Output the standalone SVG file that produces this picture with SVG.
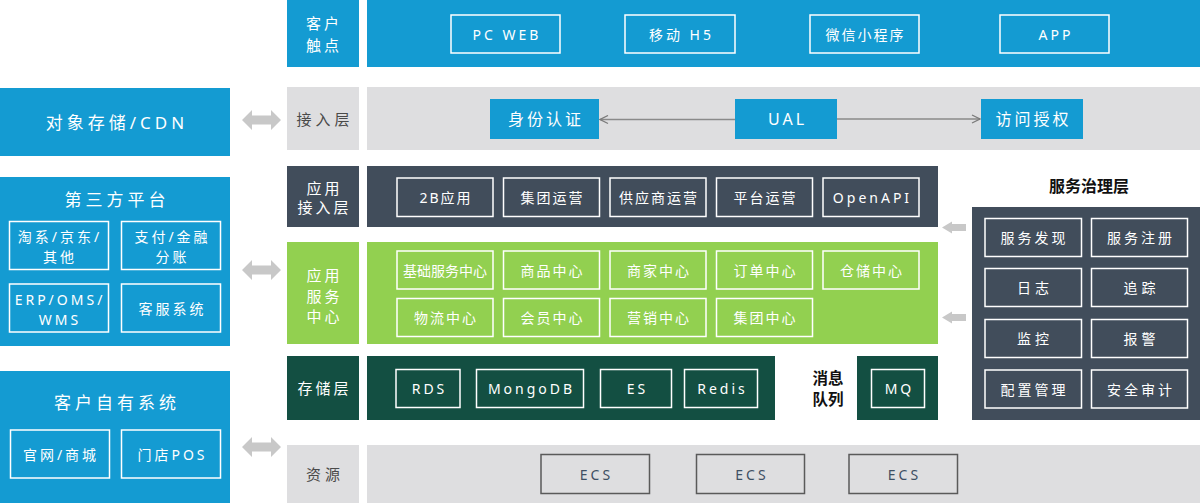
<svg xmlns="http://www.w3.org/2000/svg" width="1200" height="503" viewBox="0 0 1200 503">
<defs>
<style>
text{font-family:"Noto Sans","Noto Sans CJK SC",sans-serif;text-anchor:middle;dominant-baseline:central}
.blue{fill:#149BD2}
.gray{fill:#DEDEE0}
.dark{fill:#414D5B}
.green{fill:#92D050}
.dgreen{fill:#134F42}
.wb{fill:none;stroke:#FFFFFF;stroke-width:1.5}
.gb{fill:none;stroke:#5A5A5A;stroke-width:1.5}
.t14{font-size:14px;fill:#FFFFFF;letter-spacing:2px}
.l14{font-size:14px;fill:#FFFFFF;letter-spacing:3px}
.t16{font-size:16px;fill:#FFFFFF;letter-spacing:3px}
.lab{font-size:15px;fill:#FFFFFF;letter-spacing:3px}
.labg{font-size:15px;fill:#4A4A4A;letter-spacing:4px}
.big{font-size:17px;fill:#FFFFFF;letter-spacing:4px}
.ecs{font-size:14px;fill:#3D4F63;letter-spacing:3px}
.bold{font-size:16px;fill:#111111;font-weight:bold;font-family:"Noto Sans CJK SC",sans-serif}
.bold2{font-size:15.5px;fill:#111111;font-weight:bold;font-family:"Noto Sans CJK SC",sans-serif}
.darr{fill:#C8C8C8}
.line{stroke:#8A8A8A;stroke-width:1.5;fill:none}
</style>
<marker id="open" viewBox="0 0 10 10" refX="9" refY="5" markerWidth="10" markerHeight="10" markerUnits="userSpaceOnUse" orient="auto">
<path d="M1,1 L9,5 L1,9" fill="none" stroke="#7A7A7A" stroke-width="1.3"/>
</marker>
</defs>

<!-- Left column -->
<g id="node-oss-cdn">
<rect class="blue" x="0" y="88" width="230" height="68"/>
<text class="big" x="117" y="122">对象存储/CDN</text>
</g>
<g id="node-third-party">
<rect class="blue" x="0" y="177" width="230" height="169"/>
<text class="big" x="117" y="199">第三方平台</text>
<rect class="wb" x="9.5" y="221.5" width="99" height="48"/>
<text class="l14" x="60" y="236">淘系/京东/</text>
<text class="l14" x="60" y="256">其他</text>
<rect class="wb" x="121.5" y="221.5" width="99" height="48"/>
<text class="l14" x="172.5" y="236">支付/金融</text>
<text class="l14" x="172.5" y="256">分账</text>
<rect class="wb" x="9.5" y="284" width="99" height="48"/>
<text class="l14" x="60" y="299">ERP/OMS/</text>
<text class="l14" x="60" y="319">WMS</text>
<rect class="wb" x="121.5" y="284" width="99" height="48"/>
<text class="l14" x="172.5" y="308">客服系统</text>
</g>
<g id="node-own-systems">
<rect class="blue" x="0" y="371" width="230" height="132"/>
<text class="big" x="117" y="402">客户自有系统</text>
<rect class="wb" x="10.5" y="430" width="99" height="48"/>
<text class="l14" x="61" y="454">官网/商城</text>
<rect class="wb" x="121.5" y="430" width="99" height="48"/>
<text class="l14" x="172.5" y="454">门店POS</text>
</g>

<!-- Customer touch points -->
<g id="layer-touch">
<rect class="blue" x="287" y="0" width="72" height="67"/>
<text class="lab" x="324" y="23">客户</text>
<text class="lab" x="324" y="45">触点</text>
<rect class="blue" x="367" y="0" width="833" height="67"/>
</g>
<g id="node-pcweb"><rect class="wb" x="451" y="15" width="109" height="38"/><text class="l14" x="507" y="34">PC WEB</text></g>
<g id="node-h5"><rect class="wb" x="625" y="15" width="110" height="38"/><text class="l14" x="681.5" y="34">移动 H5</text></g>
<g id="node-miniapp"><rect class="wb" x="810" y="15" width="109" height="38"/><text class="t14" x="865.5" y="34">微信小程序</text></g>
<g id="node-app"><rect class="wb" x="1000" y="15" width="109" height="38"/><text class="l14" x="1056" y="34">APP</text></g>

<!-- Access layer -->
<g id="layer-access">
<rect class="gray" x="287" y="87" width="72" height="63"/>
<text class="labg" x="325" y="119">接入层</text>
<rect class="gray" x="367" y="87" width="833" height="63"/>
</g>
<g id="node-auth"><rect class="blue" x="490" y="99" width="109" height="40"/><text class="t16" x="546" y="119">身份认证</text></g>
<g id="node-ual"><rect class="blue" x="735" y="99" width="102" height="40"/><text class="t16" x="787.5" y="119">UAL</text></g>
<g id="node-authz"><rect class="blue" x="981" y="99" width="102" height="40"/><text class="t16" x="1033.5" y="119">访问授权</text></g>

<!-- App access layer -->
<g id="layer-app-access">
<rect class="dark" x="287" y="166" width="72" height="61"/>
<text class="lab" x="324.5" y="188">应用</text>
<text class="lab" x="324.5" y="207">接入层</text>
<rect class="dark" x="367" y="166" width="571" height="61"/>
</g>
<g id="node-2b"><rect class="wb" x="397" y="178" width="96" height="38.5"/><text class="t14" x="446" y="197">2B应用</text></g>
<g id="node-group-ops"><rect class="wb" x="503.5" y="178" width="96" height="38.5"/><text class="t14" x="552.5" y="197">集团运营</text></g>
<g id="node-supplier-ops"><rect class="wb" x="610" y="178" width="96" height="38.5"/><text class="t14" x="659" y="197">供应商运营</text></g>
<g id="node-platform-ops"><rect class="wb" x="716.5" y="178" width="96" height="38.5"/><text class="t14" x="765.5" y="197">平台运营</text></g>
<g id="node-openapi"><rect class="wb" x="823" y="178" width="96" height="38.5"/><text class="l14" x="872.5" y="197">OpenAPI</text></g>

<!-- App service center -->
<g id="layer-service-center">
<rect class="green" x="287" y="242" width="72" height="102"/>
<text class="lab" x="324.5" y="275">应用</text>
<text class="lab" x="324.5" y="296">服务</text>
<text class="lab" x="324.5" y="316">中心</text>
<rect class="green" x="367" y="242" width="571" height="102"/>
</g>
<g id="node-base"><rect class="wb" x="397" y="251" width="96" height="38"/><text class="t14" x="445" y="270" style="letter-spacing:0">基础服务中心</text></g>
<g id="node-goods"><rect class="wb" x="503.5" y="251" width="96" height="38"/><text class="t14" x="552.5" y="270">商品中心</text></g>
<g id="node-merchant"><rect class="wb" x="610" y="251" width="96" height="38"/><text class="t14" x="659" y="270">商家中心</text></g>
<g id="node-order"><rect class="wb" x="716.5" y="251" width="96" height="38"/><text class="t14" x="765.5" y="270">订单中心</text></g>
<g id="node-warehouse"><rect class="wb" x="823" y="251" width="96" height="38"/><text class="t14" x="872" y="270">仓储中心</text></g>
<g id="node-logistics"><rect class="wb" x="397" y="298.5" width="96" height="38"/><text class="t14" x="446" y="317.5">物流中心</text></g>
<g id="node-member"><rect class="wb" x="503.5" y="298.5" width="96" height="38"/><text class="t14" x="552.5" y="317.5">会员中心</text></g>
<g id="node-marketing"><rect class="wb" x="610" y="298.5" width="96" height="38"/><text class="t14" x="659" y="317.5">营销中心</text></g>
<g id="node-group-center"><rect class="wb" x="716.5" y="298.5" width="96" height="38"/><text class="t14" x="765.5" y="317.5">集团中心</text></g>

<!-- Storage layer -->
<g id="layer-storage">
<rect class="dgreen" x="287" y="356" width="72" height="64"/>
<text class="lab" x="324.5" y="388">存储层</text>
<rect class="dgreen" x="367" y="356" width="408" height="64"/>
</g>
<g id="node-rds"><rect class="wb" x="396" y="369.5" width="64" height="38"/><text class="l14" x="429.5" y="388.5">RDS</text></g>
<g id="node-mongodb"><rect class="wb" x="476.5" y="369.5" width="107" height="38"/><text class="l14" x="531.5" y="388.5">MongoDB</text></g>
<g id="node-es"><rect class="wb" x="600.5" y="369.5" width="71" height="38"/><text class="l14" x="637.5" y="388.5">ES</text></g>
<g id="node-redis"><rect class="wb" x="684.5" y="369.5" width="73" height="38"/><text class="l14" x="722.5" y="388.5">Redis</text></g>
<g id="node-mq">
<text class="bold2" x="828" y="377">消息</text>
<text class="bold2" x="828" y="397.5">队列</text>
<rect class="dgreen" x="857" y="356" width="81" height="64"/>
<rect class="wb" x="871.5" y="369.5" width="53" height="38"/>
<text class="l14" x="899.5" y="388.5">MQ</text>
</g>

<!-- Resources -->
<g id="layer-resources">
<rect class="gray" x="287" y="445" width="72" height="58"/>
<text class="labg" x="325" y="474">资源</text>
<rect class="gray" x="367" y="445" width="833" height="58"/>
</g>
<g id="node-ecs1"><rect class="gb" x="541" y="454.5" width="108.5" height="39"/><text class="ecs" x="596.5" y="474">ECS</text></g>
<g id="node-ecs2"><rect class="gb" x="696.5" y="454.5" width="108" height="39"/><text class="ecs" x="752" y="474">ECS</text></g>
<g id="node-ecs3"><rect class="gb" x="849" y="454.5" width="108.5" height="39"/><text class="ecs" x="904.5" y="474">ECS</text></g>

<!-- Governance -->
<g id="node-governance">
<text class="bold" x="1089" y="185">服务治理层</text>
<rect class="dark" x="972" y="207" width="228" height="213"/>
<rect class="wb" x="985" y="218.5" width="96.5" height="38"/><text class="l14" x="1034.5" y="237.5">服务发现</text>
<rect class="wb" x="1091.5" y="218.5" width="96" height="38"/><text class="l14" x="1141" y="237.5">服务注册</text>
<rect class="wb" x="985" y="268.5" width="96.5" height="38"/><text class="l14" x="1035" y="287.5" style="letter-spacing:4px">日志</text>
<rect class="wb" x="1091.5" y="268.5" width="96" height="38"/><text class="l14" x="1141.5" y="287.5" style="letter-spacing:4px">追踪</text>
<rect class="wb" x="985" y="319.5" width="96.5" height="38"/><text class="l14" x="1035" y="338.5" style="letter-spacing:4px">监控</text>
<rect class="wb" x="1091.5" y="319.5" width="96" height="38"/><text class="l14" x="1141.5" y="338.5" style="letter-spacing:4px">报警</text>
<rect class="wb" x="985" y="370" width="96.5" height="38"/><text class="l14" x="1034.5" y="389">配置管理</text>
<rect class="wb" x="1091.5" y="370" width="96" height="38"/><text class="l14" x="1141" y="389">安全审计</text>
</g>

<!-- Connectors -->
<g id="connectors">
<line class="line" x1="735" y1="119.5" x2="600" y2="119.5" marker-end="url(#open)"/>
<line class="line" x1="837" y1="119" x2="980" y2="119" marker-end="url(#open)"/>
<polygon class="darr" points="242,120 252,110 252,115.5 271,115.5 271,110 281,120 271,130 271,124.5 252,124.5 252,130"/>
<polygon class="darr" points="242,270 252,260 252,265.5 271,265.5 271,260 281,270 271,280 271,274.5 252,274.5 252,280"/>
<polygon class="darr" points="242,447 252,437 252,442.5 271,442.5 271,437 281,447 271,457 271,451.5 252,451.5 252,457"/>
<polygon class="darr" points="942,227.5 952,221.5 952,224 966,224 966,231 952,231 952,233.5"/>
<polygon class="darr" points="942,317.5 952,311.5 952,314 966,314 966,321 952,321 952,323.5"/>
</g>
</svg>
